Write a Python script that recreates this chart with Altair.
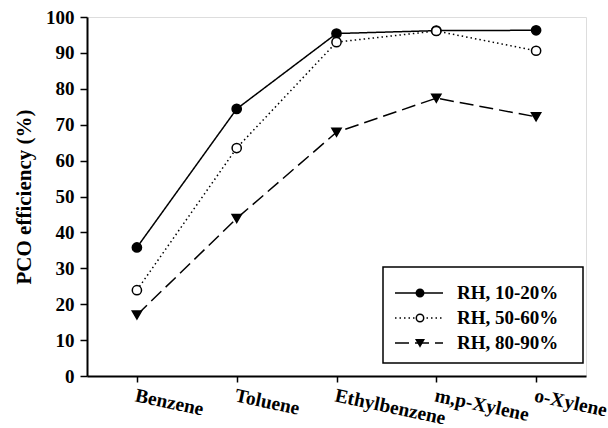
import altair as alt
import pandas as pd

# PCO efficiency (%) of each VOC at three relative-humidity ranges
compounds = ["Benzene", "Toluene", "Ethylbenzene", "m,p-Xylene", "o-Xylene"]
series = ["RH, 10-20%", "RH, 50-60%", "RH, 80-90%"]
rh_10_20 = [35.8, 74.4, 95.4, 96.2, 96.3]
rh_50_60 = [23.9, 63.5, 93.0, 96.1, 90.6]
rh_80_90 = [17.0, 43.9, 67.9, 77.4, 72.2]

rows = []
for name, vals in zip(series, [rh_10_20, rh_50_60, rh_80_90]):
    for comp, v in zip(compounds, vals):
        rows.append({"compound": comp, "series": name, "value": v})
df = pd.DataFrame(rows)
legend_df = pd.DataFrame({"series": series, "row": list(range(len(series)))})

FONT = "Liberation Serif, Times New Roman, Times, serif"

dash_scale = alt.Scale(domain=series, range=[[1, 0], [1.5, 3], [14, 6]])
shape_scale = alt.Scale(domain=series, range=["circle", "circle", "triangle-down"])
fill_scale = alt.Scale(domain=series, range=["black", "white", "black"])

x_enc = alt.X(
    "compound:N",
    sort=compounds,
    scale=alt.Scale(type="point", padding=0.5),
    axis=alt.Axis(
        title=None, labelAngle=12, labelAlign="left", labelBaseline="top",
        labelFont=FONT, labelFontSize=19.5, labelFontWeight="bold", labelColor="black",
        tickSize=6, tickWidth=1.5, tickColor="black", labelPadding=4,
        domainColor="black", domainWidth=2,
    ),
)
y_enc = alt.Y(
    "value:Q",
    scale=alt.Scale(domain=[0, 100], nice=False),
    axis=alt.Axis(
        title="PCO efficiency (%)", values=list(range(0, 101, 10)), grid=False,
        labelFont=FONT, labelFontSize=19, labelFontWeight="bold", labelColor="black",
        titleFont=FONT, titleFontSize=21, titleFontWeight="bold", titleColor="black",
        titlePadding=11, tickSize=7, tickWidth=1.5, tickColor="black", labelPadding=6,
        domainColor="black", domainWidth=2,
    ),
)

base = alt.Chart(df).encode(x=x_enc, y=y_enc)

lines = base.mark_line(color="black", strokeWidth=1.5).encode(
    strokeDash=alt.StrokeDash("series:N", scale=dash_scale, legend=None),
    detail="series:N",
)
points = base.mark_point(size=85, stroke="black", strokeWidth=1.5, opacity=1).encode(
    shape=alt.Shape("series:N", scale=shape_scale, legend=None),
    fill=alt.Fill("series:N", scale=fill_scale, legend=None),
)
data_layer = alt.layer(lines, points)

# Key box in the lower right of the plot
row_y = alt.Y("row:Q", scale=alt.Scale(domain=[0, 2], range=[276, 326]), axis=None)
leg = alt.Chart(legend_df)
key_box = alt.Chart(pd.DataFrame({"k": [0]})).mark_rect(
    fill="white", stroke="black", strokeWidth=1.5
).encode(x=alt.value(296), x2=alt.value(496), y=alt.value(250), y2=alt.value(346))
key_lines = leg.mark_rule(color="black", strokeWidth=1.5).encode(
    x=alt.value(308), x2=alt.value(356), y=row_y,
    strokeDash=alt.StrokeDash("series:N", scale=dash_scale, legend=None),
)
key_points = leg.mark_point(size=55, stroke="black", strokeWidth=1.5, opacity=1).encode(
    x=alt.value(333), y=row_y,
    shape=alt.Shape("series:N", scale=shape_scale, legend=None),
    fill=alt.Fill("series:N", scale=fill_scale, legend=None),
)
key_text = leg.mark_text(
    align="left", baseline="middle", font=FONT, fontSize=19, fontWeight="bold", color="black"
).encode(x=alt.value(370), y=row_y, text="series:N")
key_layer = alt.layer(key_lines, key_points, key_text)

chart = (
    alt.layer(data_layer, key_box, key_layer)
    .resolve_scale(y="independent")
    .properties(
        width=499, height=359,
        autosize=alt.AutoSizeParams(type="none"),
        padding={"left": 87, "top": 17, "right": 22, "bottom": 52},
    )
    .configure_view(stroke="black", strokeWidth=2)
    .configure(background="white")
)

chart.save("out.html", embed_options={"renderer": "svg", "actions": False})
